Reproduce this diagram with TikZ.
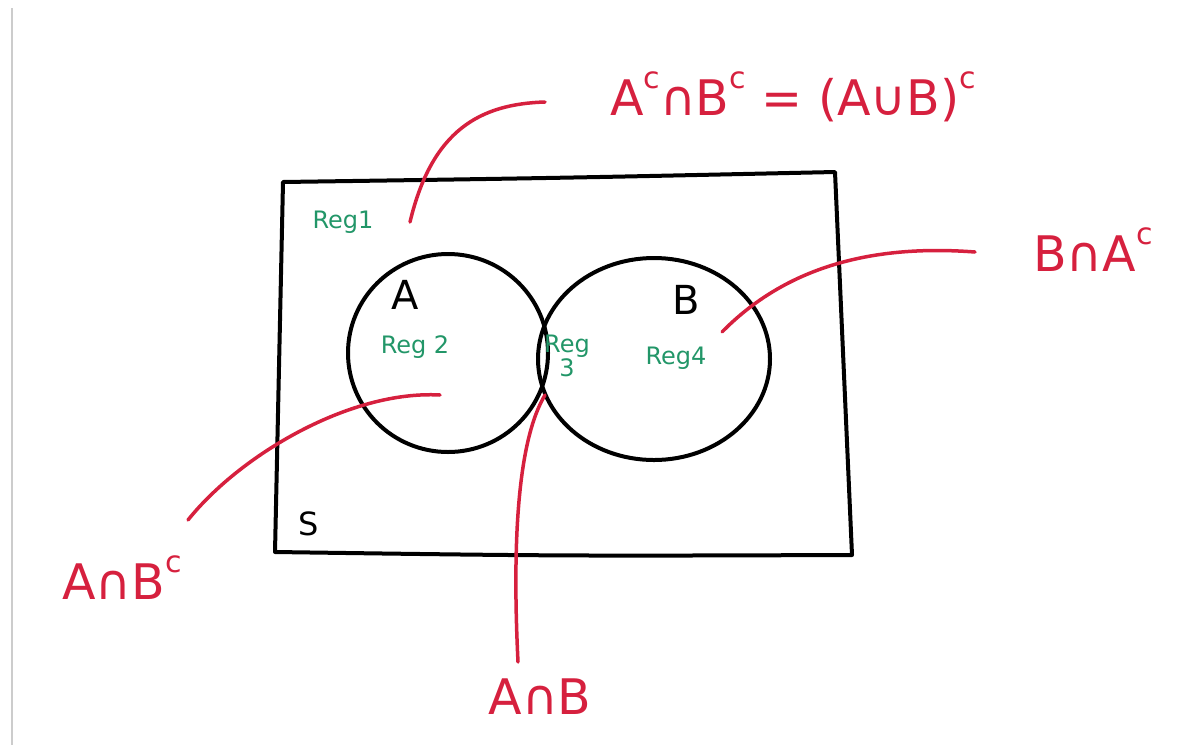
\documentclass[tikz,border=0pt]{standalone}
\usepackage{fontspec}
\setmainfont{DejaVu Sans}
\usetikzlibrary{shapes.geometric, positioning, calc}
\definecolor{penred}{RGB}{214,32,62}
\definecolor{pengreen}{RGB}{34,150,104}
\newcommand{\highc}{\raisebox{0.55em}{\fontsize{30}{30}\selectfont c}}
\tikzstyle{pen}      = [line width=4pt, line cap=round, line join=round]
\tikzstyle{setname}  = [font=\fontsize{40}{40}\selectfont, text=black]
\tikzstyle{region}   = [font=\fontsize{24}{21}\selectfont, text=pengreen, align=center]
\tikzstyle{formula}  = [font=\fontsize{49}{49}\selectfont, text=penred, inner sep=0pt]
\tikzstyle{link}     = [penred, line width=3.5pt, line cap=round]

\begin{document}
\begin{tikzpicture}[x=1pt, y=-1pt]
  \useasboundingbox (0,0) rectangle (1180,745);
  \draw[black!20, line width=2pt] (12,8) -- (12,745);

  % sample space
  \draw[pen] (283,182) .. controls (560,178) .. (835,172)
             -- (852,555) .. controls (560,556) .. (275,552) -- cycle;
  \node[setname, font=\fontsize{32}{32}\selectfont] (lblS) at (309,524) {S};

  % the two sets
  \node[ellipse, draw, pen, minimum width=200, minimum height=198] (setA) at (448,353) {};
  \node[ellipse, draw, pen, minimum width=232, minimum height=202] (setB) at (654,359) {};
  \node[setname] (lblA) at (405,295) {A};
  \node[setname] (lblB) at (686,300) {B};

  % regions
  \node[region] (reg1) at (343,222) {Reg1};
  \node[region] (reg2) at (415,347) {Reg 2};
  \node[region] (reg3) at (567,356) {Reg\\3};
  \node[region] (reg4) at (676,358) {Reg4};

  % formulas
  \node[formula] (f1) at (793,97) {A\highc∩B\highc{} = (A∪B)\highc};
  \node[formula] (f2) at (1093,250) {B∩A\highc};
  \node[formula] (f3) at (122,578) {A∩B\highc};
  \node[formula] (f4) at (540,697) {A∩B};

  % pointers
  \coordinate (p1) at (410,222);  \coordinate (q1) at (545,102);
  \coordinate (p2) at (722,332);  \coordinate (q2) at (975,252);
  \coordinate (p3) at (440,395);  \coordinate (q3) at (188,520);
  \coordinate (p4) at (545,395);  \coordinate (q4) at (518,662);

  \draw[link] (p1) .. controls (432,130) and (480,104) .. (q1);
  \draw[link] (p2) .. controls (785,268) and (870,244) .. (q2);
  \draw[link] (p3) .. controls (350,390) and (240,455) .. (q3);
  \draw[link] (p4) .. controls (518,440) and (512,540) .. (q4);
\end{tikzpicture}
\end{document}
